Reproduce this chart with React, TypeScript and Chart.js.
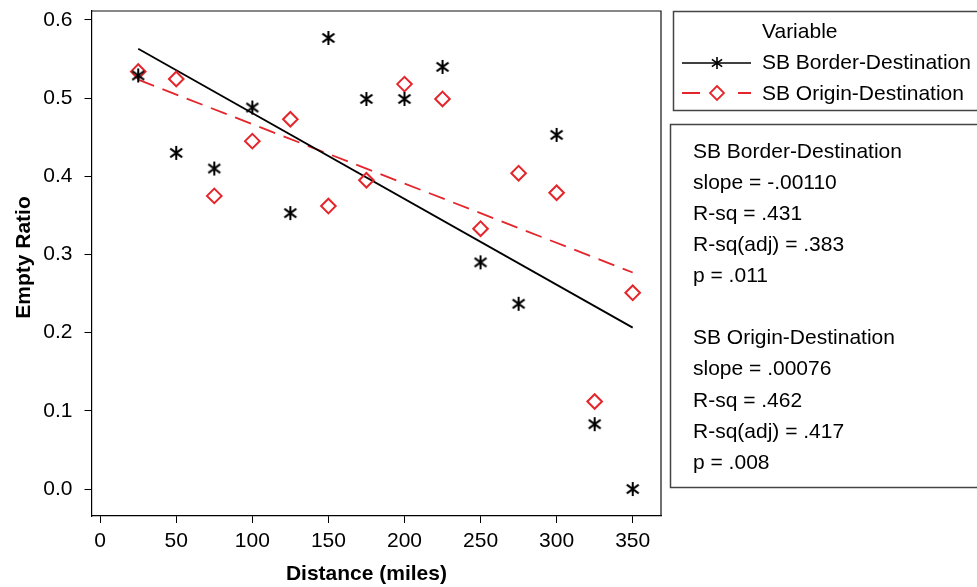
import React, { useEffect, useRef } from 'react';
import { Chart, registerables } from 'chart.js';

Chart.register(...registerables);

const distances = [25, 50, 75, 100, 125, 150, 175, 200, 225, 250, 275, 300, 325, 350];
const borderDestination = [0.529, 0.43, 0.41, 0.488, 0.353, 0.577, 0.499, 0.499, 0.54, 0.29, 0.237, 0.453, 0.083, 0.0];
const originDestination = [0.534, 0.5245, 0.375, 0.445, 0.473, 0.362, 0.395, 0.518, 0.499, 0.333, 0.404, 0.379, 0.112, 0.251];
const xTicks = [0, 50, 100, 150, 200, 250, 300, 350];
const yTicks = [0.0, 0.1, 0.2, 0.3, 0.4, 0.5, 0.6];
const seriesNames = ['SB Border-Destination', 'SB Origin-Destination'];
const legendTitle = 'Variable';
const statsLines = [
  'SB Border-Destination',
  'slope = -.00110',
  'R-sq = .431',
  'R-sq(adj) = .383',
  'p = .011',
  '',
  'SB Origin-Destination',
  'slope = .00076',
  'R-sq = .462',
  'R-sq(adj) = .417',
  'p = .008',
];
const xTitle = 'Distance (miles)';
const yTitle = 'Empty Ratio';

const RED = '#e4262c';
const FONT = '"Liberation Sans", Arial, Helvetica, sans-serif';

function linFit(xs: number[], ys: number[]) {
  const n = xs.length;
  const mx = xs.reduce((a, b) => a + b, 0) / n;
  const my = ys.reduce((a, b) => a + b, 0) / n;
  let sxy = 0;
  let sxx = 0;
  for (let i = 0; i < n; i++) {
    sxy += (xs[i] - mx) * (ys[i] - my);
    sxx += (xs[i] - mx) * (xs[i] - mx);
  }
  const b = sxy / sxx;
  const a = my - b * mx;
  const x0 = xs[0];
  const x1 = xs[n - 1];
  return [
    { x: x0, y: a + b * x0 },
    { x: x1, y: a + b * x1 },
  ];
}

function makeAsterisk(half: number, lw: number) {
  const c = document.createElement('canvas');
  const s = Math.ceil(half * 2 + 4);
  c.width = s;
  c.height = s;
  const g = c.getContext('2d')!;
  g.translate(s / 2, s / 2);
  g.strokeStyle = '#000';
  g.lineWidth = lw;
  g.beginPath();
  g.moveTo(0, -half);
  g.lineTo(0, half);
  const dx = half * 0.85;
  const dy = half * 0.62;
  g.moveTo(-dx, -dy);
  g.lineTo(dx, dy);
  g.moveTo(-dx, dy);
  g.lineTo(dx, -dy);
  g.stroke();
  return c;
}

function drawDiamond(ctx: CanvasRenderingContext2D, x: number, y: number, r: number) {
  ctx.beginPath();
  ctx.moveTo(x, y - r);
  ctx.lineTo(x + r, y);
  ctx.lineTo(x, y + r);
  ctx.lineTo(x - r, y);
  ctx.closePath();
  ctx.stroke();
}

export default function App() {
  const ref = useRef<HTMLCanvasElement | null>(null);

  useEffect(() => {
    document.body.style.margin = '0';
    const canvas = ref.current;
    if (!canvas) return;
    const asterisk = makeAsterisk(7, 2);
    const asteriskSmall = makeAsterisk(6, 1.6);

    const ptsB = distances.map((x, i) => ({ x, y: borderDestination[i] }));
    const ptsO = distances.map((x, i) => ({ x, y: originDestination[i] }));
    const fitB = linFit(distances, borderDestination);
    const fitO = linFit(distances, originDestination);

    const overlay = {
      id: 'overlay',
      afterDraw(chart: any) {
        const ctx: CanvasRenderingContext2D = chart.ctx;
        const ca = chart.chartArea;
        const xs = chart.scales.x;
        const ys = chart.scales.y;
        ctx.save();
        // frame top/right
        ctx.strokeStyle = '#111';
        ctx.lineWidth = 1.2;
        ctx.beginPath();
        ctx.moveTo(ca.left, ca.top);
        ctx.lineTo(ca.right, ca.top);
        ctx.lineTo(ca.right, ca.bottom);
        ctx.stroke();

        // axis titles
        ctx.fillStyle = '#000';
        ctx.font = `bold 21px ${FONT}`;
        ctx.textAlign = 'center';
        ctx.textBaseline = 'middle';
        const xc = (xs.getPixelForValue(xTicks[0]) + xs.getPixelForValue(xTicks[xTicks.length - 1])) / 2;
        ctx.fillText(xTitle, xc, 574);
        const yc = (ys.getPixelForValue(yTicks[0]) + ys.getPixelForValue(yTicks[yTicks.length - 1])) / 2;
        ctx.save();
        ctx.translate(24, yc + 3);
        ctx.rotate(-Math.PI / 2);
        ctx.fillText(yTitle, 0, 0);
        ctx.restore();

        // legend box
        ctx.strokeStyle = '#444';
        ctx.lineWidth = 1.5;
        ctx.strokeRect(673.5, 11.5, 400, 99);
        ctx.font = `21px ${FONT}`;
        ctx.textAlign = 'left';
        ctx.fillStyle = '#000';
        ctx.fillText(legendTitle, 762, 32);
        ctx.fillText(seriesNames[0], 762, 63);
        ctx.fillText(seriesNames[1], 762, 94);
        ctx.strokeStyle = '#000';
        ctx.lineWidth = 1.6;
        ctx.beginPath();
        ctx.moveTo(682, 63);
        ctx.lineTo(751, 63);
        ctx.stroke();
        ctx.drawImage(asteriskSmall, 717 - asteriskSmall.width / 2, 63 - asteriskSmall.height / 2);
        ctx.strokeStyle = RED;
        ctx.lineWidth = 1.8;
        ctx.beginPath();
        ctx.moveTo(682, 93);
        ctx.lineTo(700, 93);
        ctx.moveTo(738, 93);
        ctx.lineTo(751, 93);
        ctx.stroke();
        drawDiamond(ctx, 717, 93, 7);

        // stats box
        ctx.strokeStyle = '#444';
        ctx.lineWidth = 1.5;
        ctx.strokeRect(670.5, 124.5, 400, 363);
        ctx.fillStyle = '#000';
        statsLines.forEach((t, i) => {
          if (t) ctx.fillText(t, 693, 152 + i * 31.1);
        });
        ctx.restore();
      },
    };

    const chart = new Chart(canvas, {
      type: 'scatter',
      data: {
        datasets: [
          {
            label: seriesNames[0],
            data: ptsB,
            pointStyle: asterisk as any,
            pointRadius: 7,
            order: 1,
          },
          {
            label: seriesNames[1],
            data: ptsO,
            pointStyle: 'rectRot',
            pointRadius: 7.3,
            borderColor: RED,
            borderWidth: 2,
            backgroundColor: 'rgba(0,0,0,0)',
            order: 2,
          },
          {
            label: seriesNames[0] + ' fit',
            data: fitB,
            showLine: true,
            borderColor: '#000',
            borderWidth: 1.8,
            pointRadius: 0,
            order: 3,
          },
          {
            label: seriesNames[1] + ' fit',
            data: fitO,
            showLine: true,
            borderColor: RED,
            borderWidth: 1.8,
            borderDash: [17, 9],
            pointRadius: 0,
            order: 4,
          },
        ],
      },
      options: {
        responsive: false,
        animation: false,
        devicePixelRatio: 1,
        layout: { padding: { left: 0, top: 11, right: 316, bottom: 0 } },
        plugins: { legend: { display: false }, tooltip: { enabled: false } },
        scales: {
          x: {
            type: 'linear',
            min: -5.7,
            max: 368.6,
            afterBuildTicks: (s: any) => {
              s.ticks = xTicks.map((v) => ({ value: v }));
            },
            afterFit: (s: any) => {
              s.height = 71;
              s.paddingLeft = 0;
              s.paddingRight = 0;
              s.paddingTop = 0;
              s.paddingBottom = 0;
            },
            grid: { drawOnChartArea: false, drawTicks: true, tickLength: 7, color: '#000', lineWidth: 1 },
            border: { display: true, color: '#000', width: 1.2 },
            ticks: {
              color: '#000',
              font: { family: FONT, size: 21 },
              padding: 6,
              maxRotation: 0,
              autoSkip: false,
              callback: (v: any) => String(v),
            },
          },
          y: {
            type: 'linear',
            min: -0.0345,
            max: 0.6115,
            afterBuildTicks: (s: any) => {
              s.ticks = yTicks.map((v) => ({ value: v }));
            },
            afterFit: (s: any) => {
              s.width = 91.5;
              s.paddingLeft = 0;
              s.paddingRight = 0;
              s.paddingTop = 0;
              s.paddingBottom = 0;
            },
            grid: { drawOnChartArea: false, drawTicks: true, tickLength: 7, color: '#000', lineWidth: 1 },
            border: { display: true, color: '#000', width: 1.2 },
            ticks: {
              color: '#000',
              font: { family: FONT, size: 21 },
              padding: 12,
              autoSkip: false,
              callback: (v: any) => Number(v).toFixed(1),
            },
          },
        },
      },
      plugins: [overlay],
    });

    return () => {
      chart.destroy();
    };
  }, []);

  return (
    <div style={{ width: 977, height: 587, position: 'relative', background: '#fff' }}>
      <canvas ref={ref} width={977} height={587} style={{ display: 'block' }} />
    </div>
  );
}
